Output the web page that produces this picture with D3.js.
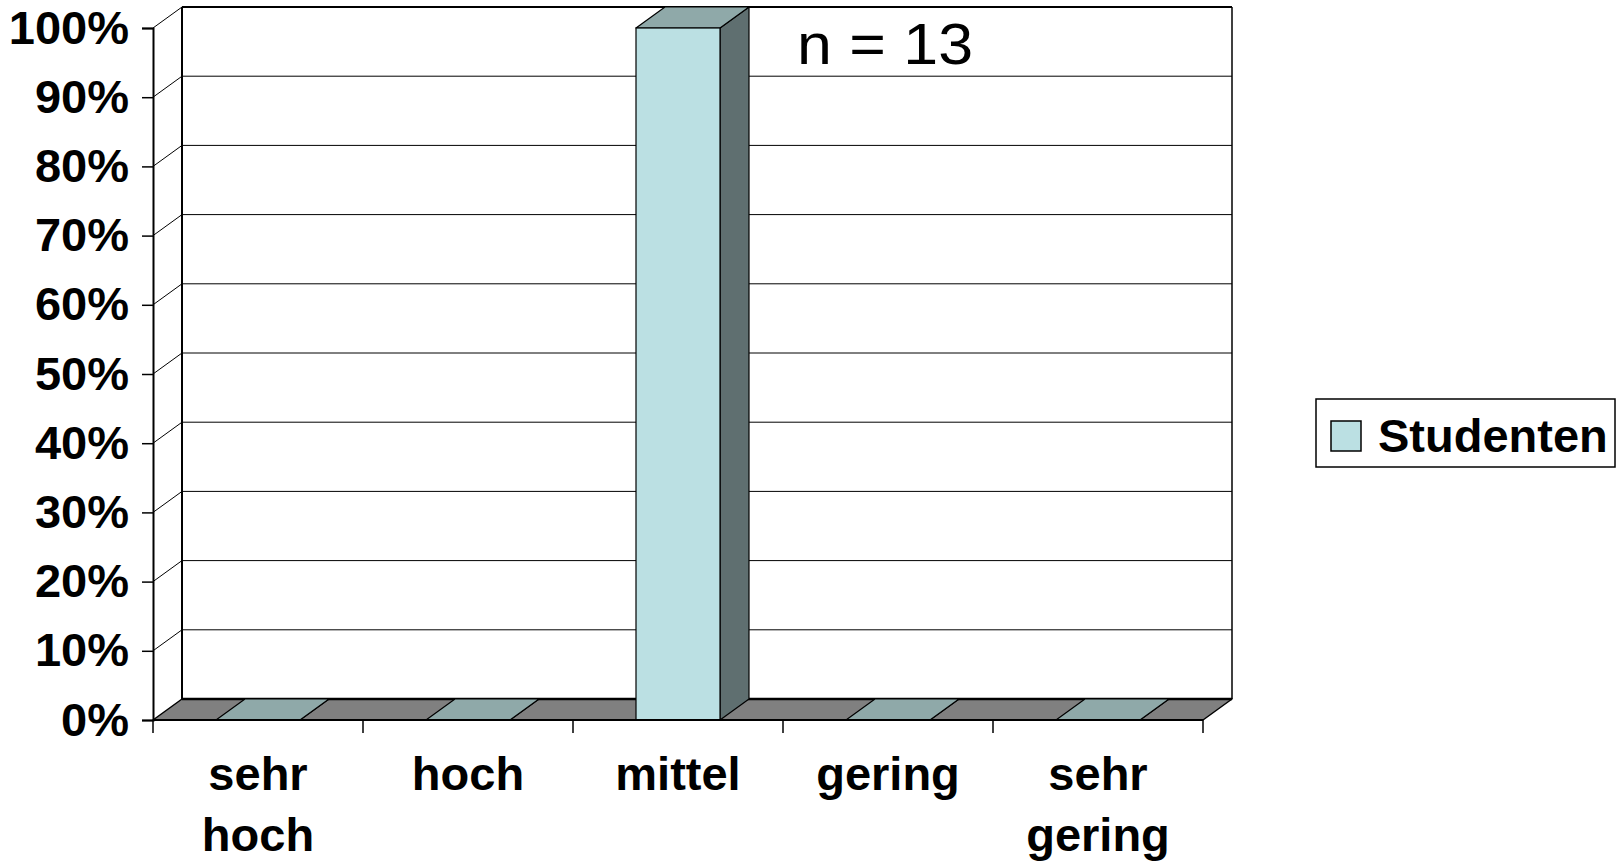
<!DOCTYPE html>
<html>
<head>
<meta charset="utf-8">
<script src="https://cdn.jsdelivr.net/npm/d3@7"></script>
<style>
  html, body { margin: 0; padding: 0; background: #fff; }
  svg { display: block; font-family: "Liberation Sans", Arial, sans-serif; }
</style>
</head>
<body>
<svg id="chart" width="1621" height="861"></svg>
<script>
// chart data
const categories = [["sehr", "hoch"], ["hoch"], ["mittel"], ["gering"], ["sehr", "gering"]];
const studenten = [0, 0, 100, 0, 0];
const yTicks = [0, 10, 20, 30, 40, 50, 60, 70, 80, 90, 100];
const seriesName = "Studenten";
const note = "n = 13";

const svg = d3.select("#chart");

// 3d depth offset
const dx = 29, dy = -21;

const x = d3.scaleBand()
  .domain(d3.range(categories.length))
  .range([153, 1203]);

const y = d3.scaleLinear()
  .domain([0, 100])
  .range([720, 28]);

const barW = x.bandwidth() * 0.4;
const barX = i => x(i) + (x.bandwidth() - barW) / 2;

// back wall
const wall = svg.append("g");
wall.append("rect")
  .attr("x", x.range()[0] + dx).attr("y", y(100) + dy)
  .attr("width", x.range()[1] - x.range()[0])
  .attr("height", y(0) - y(100))
  .attr("fill", "#fff");

wall.selectAll("line.grid")
  .data(yTicks.filter(d => d > 0))
  .enter().append("line")
  .attr("x1", x.range()[0] + dx).attr("x2", x.range()[1] + dx)
  .attr("y1", d => y(d) + dy).attr("y2", d => y(d) + dy)
  .attr("stroke", "#000")
  .attr("stroke-width", d => d === 100 ? 2 : 1);

// wall side edges
[x.range()[0] + dx, x.range()[1] + dx].forEach((wx, k) => {
  wall.append("line")
    .attr("x1", wx).attr("x2", wx)
    .attr("y1", y(100) + dy).attr("y2", y(0) + dy)
    .attr("stroke", "#000").attr("stroke-width", k === 0 ? 2 : 1.5);
});

// diagonals from the value axis to the wall
svg.selectAll("line.diag")
  .data(yTicks.filter(d => d > 0))
  .enter().append("line")
  .attr("x1", x.range()[0]).attr("y1", d => y(d))
  .attr("x2", x.range()[0] + dx).attr("y2", d => y(d) + dy)
  .attr("stroke", "#000").attr("stroke-width", 1);

// floor
const x0 = x.range()[0], x1 = x.range()[1], yb = y(0);
svg.append("polygon")
  .attr("points", [[x0, yb], [x0 + dx, yb + dy], [x1 + dx, yb + dy], [x1, yb]].join(" "))
  .attr("fill", "#808080")
  .attr("stroke", "#000").attr("stroke-width", 1.5)
  .attr("stroke-linejoin", "round");
svg.append("line")
  .attr("x1", x0 + dx).attr("x2", x1 + dx)
  .attr("y1", yb + dy).attr("y2", yb + dy)
  .attr("stroke", "#000").attr("stroke-width", 2.5);

// bars
const bars = svg.selectAll("g.bar")
  .data(studenten)
  .enter().append("g");

bars.append("polygon") // side
  .attr("points", (d, i) => {
    const r = barX(i) + barW;
    return [[r, y(d)], [r + dx, y(d) + dy], [r + dx, yb + dy], [r, yb]].join(" ");
  })
  .attr("fill", "#5f6f70").attr("stroke", "#000").attr("stroke-width", 1.2)
  .attr("stroke-linejoin", "round");

bars.append("polygon") // top
  .attr("points", (d, i) => {
    const l = barX(i), r = l + barW;
    return [[l, y(d)], [l + dx, y(d) + dy], [r + dx, y(d) + dy], [r, y(d)]].join(" ");
  })
  .attr("fill", "#8fa9a9").attr("stroke", "#000").attr("stroke-width", 1.2)
  .attr("stroke-linejoin", "round");

bars.filter(d => d > 0).append("rect") // front
  .attr("x", (d, i) => barX(studenten.indexOf(d)))
  .attr("y", d => y(d))
  .attr("width", barW)
  .attr("height", d => yb - y(d))
  .attr("fill", "#bbe0e3").attr("stroke", "#000").attr("stroke-width", 1.2);

// value axis
const yAxis = svg.append("g")
  .attr("transform", `translate(${x0},0)`)
  .call(d3.axisLeft(y).tickValues(yTicks).tickSize(11).tickPadding(13)
    .tickFormat(d => d + "%"));
yAxis.select(".domain").attr("stroke", "#000").attr("stroke-width", 2);
yAxis.selectAll(".tick line").attr("stroke", "#000").attr("stroke-width", 1.5);
yAxis.selectAll(".tick text")
  .attr("font-family", "'Liberation Sans', Arial, sans-serif")
  .attr("font-size", 47).attr("font-weight", "bold").attr("fill", "#000");

// category axis
const xAxis = svg.append("g")
  .attr("transform", `translate(0,${yb})`);
xAxis.append("line")
  .attr("x1", x0).attr("x2", x1).attr("y1", 0).attr("y2", 0)
  .attr("stroke", "#000").attr("stroke-width", 2);
xAxis.selectAll("line.tick")
  .data(d3.range(categories.length + 1))
  .enter().append("line")
  .attr("x1", i => x0 + i * x.step()).attr("x2", i => x0 + i * x.step())
  .attr("y1", 0).attr("y2", 13)
  .attr("stroke", "#000").attr("stroke-width", 1.5);

const labels = xAxis.selectAll("text.cat")
  .data(categories)
  .enter().append("text")
  .attr("text-anchor", "middle")
  .attr("font-size", 47).attr("font-weight", "bold").attr("fill", "#000");
labels.selectAll("tspan")
  .data((d, i) => d.map((t, k) => ({ t, k, i })))
  .enter().append("tspan")
  .attr("x", d => x(d.i) + x.bandwidth() / 2)
  .attr("y", d => 70 + d.k * 61)
  .text(d => d.t);

// annotation
svg.append("text")
  .attr("x", 797).attr("y", 64)
  .attr("font-size", 58).attr("fill", "#000")
  .attr("textLength", 176).attr("lengthAdjust", "spacingAndGlyphs")
  .text(note);

// legend
const legend = svg.append("g").attr("transform", "translate(1316,399)");
legend.append("rect")
  .attr("width", 299).attr("height", 68)
  .attr("fill", "#fff").attr("stroke", "#000").attr("stroke-width", 1.5);
legend.append("rect")
  .attr("x", 15).attr("y", 22).attr("width", 30).attr("height", 30)
  .attr("fill", "#bbe0e3").attr("stroke", "#000").attr("stroke-width", 1.5);
legend.append("text")
  .attr("x", 62).attr("y", 53)
  .attr("font-size", 47).attr("font-weight", "bold").attr("fill", "#000")
  .text(seriesName);
</script>
</body>
</html>
